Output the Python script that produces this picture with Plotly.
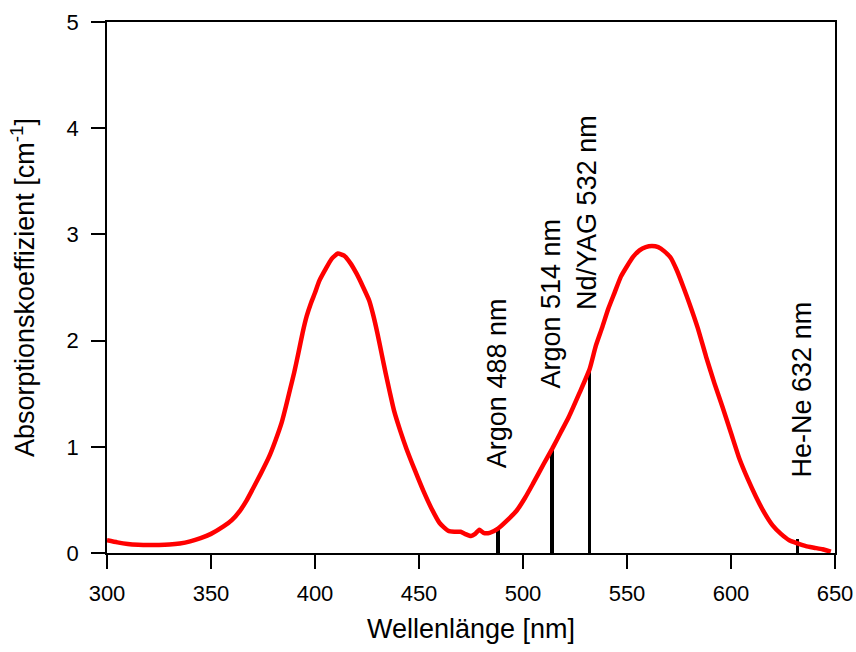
import plotly.graph_objects as go

# Absorption spectrum
wavelength_nm = [300, 305, 310, 315, 320, 325, 330, 335, 340, 345, 350, 356, 360, 364, 367, 370,
                 374, 378, 381, 384, 386, 388, 390, 392, 394, 396, 398, 400, 402, 405, 408, 411,
                 414, 417, 420, 423, 426, 428, 430, 432, 434, 436, 438, 441, 444, 448, 452, 456,
                 460, 464, 467, 470, 472, 475, 477, 479, 481, 484, 488, 492, 497, 501, 505, 510,
                 514, 518, 522, 527, 532, 535, 538, 541, 544, 547, 550, 553, 556, 559, 562, 565,
                 568, 571, 574, 577, 580, 584, 588, 592, 596, 600, 604, 608, 612, 616, 620, 624,
                 628, 632, 636, 640, 644, 648]
absorption = [0.12, 0.10, 0.085, 0.078, 0.075, 0.076, 0.08, 0.09, 0.11, 0.14, 0.18, 0.25, 0.31, 0.40,
              0.49, 0.60, 0.75, 0.91, 1.06, 1.23, 1.38, 1.54, 1.70, 1.88, 2.07, 2.23, 2.35, 2.45,
              2.56, 2.67, 2.77, 2.82, 2.80, 2.73, 2.63, 2.51, 2.38, 2.24, 2.07, 1.88, 1.69, 1.51,
              1.34, 1.15, 0.98, 0.78, 0.59, 0.42, 0.28, 0.21, 0.20, 0.20, 0.18, 0.16, 0.18, 0.22,
              0.19, 0.19, 0.23, 0.30, 0.40, 0.52, 0.66, 0.84, 0.98, 1.13, 1.28, 1.50, 1.73, 1.95,
              2.12, 2.30, 2.45, 2.60, 2.70, 2.79, 2.85, 2.88, 2.89, 2.88, 2.84, 2.78, 2.66, 2.51,
              2.35, 2.12, 1.85, 1.60, 1.37, 1.13, 0.89, 0.70, 0.53, 0.38, 0.26, 0.18, 0.12, 0.09,
              0.065, 0.05, 0.035, 0.012]

# Laser lines
laser_nm = [488, 514, 532, 632]
laser_height = [0.23, 0.99, 1.72, 0.13]
laser_labels = ["Argon 488 nm", "Argon 514 nm", "Nd/YAG 532 nm", "He-Ne 632 nm"]
label_x = [487.5, 513, 531, 634]
label_y = [0.78, 1.53, 2.27, 0.69]

x_ticks = [300, 350, 400, 450, 500, 550, 600, 650]
y_ticks = [0, 1, 2, 3, 4, 5]

FONT = "Liberation Sans, Arial, sans-serif"

fig = go.Figure()
fig.add_trace(go.Bar(x=laser_nm, y=laser_height, width=1.8,
                     marker=dict(color="black", line=dict(width=0)), showlegend=False))
fig.add_trace(go.Scatter(x=wavelength_nm, y=absorption, mode="lines",
                         line=dict(color="#ff0000", width=4.5, shape="spline", smoothing=0.5),
                         showlegend=False))

for lx, ly, txt in zip(label_x, label_y, laser_labels):
    fig.add_annotation(x=lx, y=ly, text=txt, textangle=-90, showarrow=False,
                       xanchor="center", yanchor="bottom",
                       font=dict(family=FONT, size=27, color="black"))

axis_common = dict(showline=True, linecolor="black", linewidth=1.5, mirror=True,
                   ticks="outside", ticklen=14, tickwidth=1.5, tickcolor="black",
                   showgrid=False, zeroline=False,
                   tickfont=dict(family=FONT, size=22, color="black"))

fig.update_xaxes(range=[300, 650], tickvals=x_ticks, ticklabelstandoff=6,
                 title=dict(text="Wellenlänge [nm]", font=dict(family=FONT, size=27, color="black"),
                            standoff=14),
                 **axis_common)
fig.update_yaxes(range=[0, 5], tickvals=y_ticks, ticklabelstandoff=8,
                 title=dict(text="Absorptionskoeffizient [cm<sup>-1</sup>]",
                            font=dict(family=FONT, size=27, color="black"), standoff=24),
                 **axis_common)

fig.update_layout(width=856, height=652,
                  margin=dict(l=107, r=21, t=22, b=99, autoexpand=False),
                  plot_bgcolor="white", paper_bgcolor="white", bargap=0)

fig.write_html("out.html")
